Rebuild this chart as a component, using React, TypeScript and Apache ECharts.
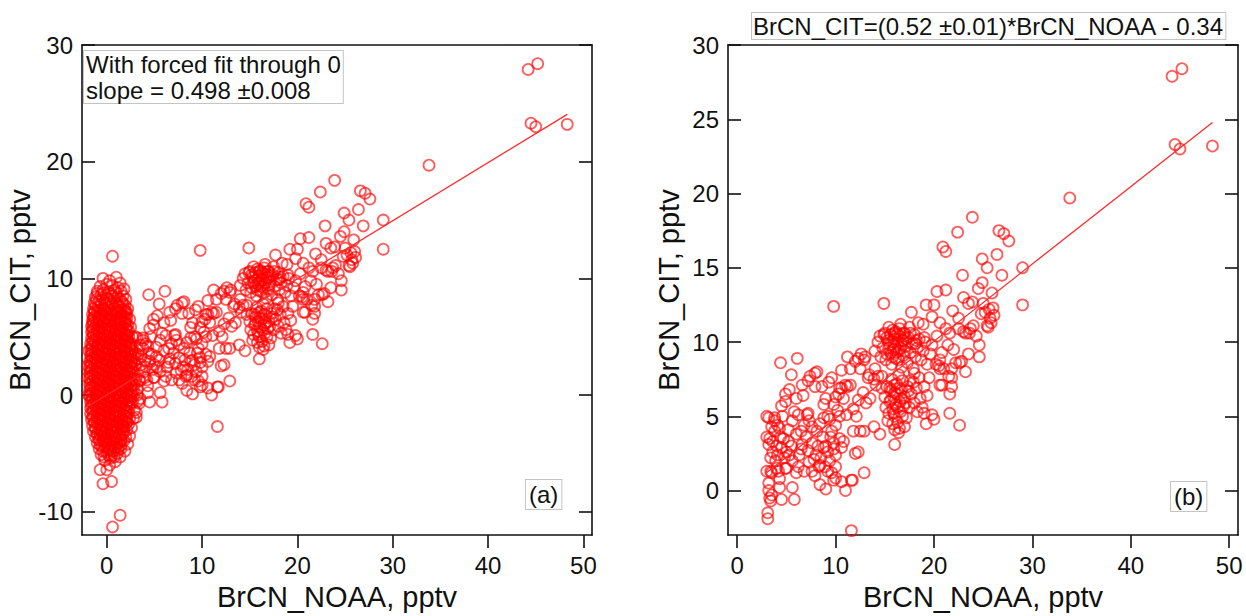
import React, { useEffect, useRef } from "react";
import * as echarts from "echarts";

// BrCN_NOAA (x, pptv), BrCN_CIT (y, pptv) — points with BrCN_NOAA >= 3 (shown in both panels)
const pointsAboveThreshold: [number, number][] = [
  [44.2, 27.9], [45.2, 28.4], [44.5, 23.3], [45.0, 23.0], [48.3, 23.2], [33.8, 19.7],
  [23.9, 18.4], [22.4, 17.4], [26.6, 17.5], [27.1, 17.3], [27.6, 16.8], [20.9, 16.4], [21.2, 16.1],
  [26.4, 15.9], [24.9, 15.6], [25.4, 15.0], [29.0, 15.0], [22.9, 14.5], [26.9, 14.5], [24.9, 14.0],
  [24.5, 13.6], [20.3, 13.4], [21.2, 13.5], [25.9, 13.3], [23.0, 13.0], [14.9, 12.6], [9.8, 12.4],
  [19.2, 12.5], [20.0, 12.5], [17.7, 12.0], [29.0, 12.5], [25.0, 12.6], [25.6, 12.2], [24.8, 11.9],
  [26.1, 11.8], [25.4, 11.1], [25.5, 11.0], [25.8, 11.3], [19.8, 11.7], [18.9, 11.2], [24.0, 11.1],
  [23.0, 10.7], [23.6, 10.6], [21.6, 10.6], [16.9, 10.6], [16.0, 10.6], [14.9, 10.5], [14.3, 10.0],
  [24.6, 9.8], [21.4, 9.8], [19.0, 10.3], [18.1, 9.9], [16.9, 10.1], [24.6, 9.0], [22.6, 8.6],
  [20.6, 8.8], [20.6, 8.2], [20.2, 8.5], [21.8, 8.2], [21.8, 7.6], [20.8, 7.1], [21.6, 6.5],
  [21.6, 5.2], [22.6, 4.4], [19.8, 5.1], [20.0, 4.8], [19.2, 4.5], [16.5, 4.2], [16.0, 4.1],
  [16.0, 3.1], [15.8, 4.5], [13.9, 4.3], [14.5, 3.8], [12.5, 4.0], [12.9, 4.0], [12.0, 2.5],
  [12.9, 1.2], [11.6, 0.7], [11.0, 0.0], [11.6, -2.7], [9.8, 0.7], [9.0, 0.1], [8.4, 0.4],
  [5.6, 0.2], [5.8, -0.6], [4.5, -0.6], [4.3, 0.2], [3.2, 0.0], [3.3, -0.5], [3.5, -0.3],
  [3.4, -0.7], [3.1, -1.5], [3.1, -1.9], [23.9, 12.7], [23.5, 12.6],
  // dense cluster near (16, 10)
  [14.5, 10.4], [14.8, 9.6], [15.0, 10.6], [15.2, 9.2], [15.3, 10.1], [15.5, 9.8], [15.6, 10.5],
  [15.8, 9.0], [15.9, 9.5], [16.0, 10.2], [16.1, 10.7], [16.2, 9.3], [16.3, 9.9], [16.4, 8.8],
  [16.5, 10.4], [16.6, 9.6], [16.8, 10.1], [16.9, 9.1], [17.0, 10.6], [17.1, 9.7], [17.3, 8.6],
  [17.4, 10.3], [17.6, 9.3], [17.8, 9.9], [18.0, 10.5], [18.1, 9.0], [18.3, 9.6], [18.5, 10.2],
  [18.7, 8.8], [18.9, 9.4], [19.1, 10.0], [19.3, 8.5], [19.6, 9.2], [19.8, 9.8], [15.1, 8.8],
  [15.7, 8.5], [16.7, 8.3], [14.6, 9.0], [15.4, 11.0], [16.6, 11.2], [17.5, 11.0], [14.0, 9.4],
  [18.4, 11.3], [17.9, 8.2],
  [15.2, 10.3], [15.6, 9.3], [16.0, 9.7], [16.3, 10.5], [16.7, 9.9], [17.2, 10.2], [15.9, 10.0],
  [16.4, 9.4], [17.0, 9.4], [15.4, 9.6], [16.1, 8.9], [17.6, 10.6], [18.2, 10.1], [16.5, 10.9],
  [15.8, 10.8],
  // dense cluster near (16.5, 6)
  [15.0, 6.3], [15.1, 5.6], [15.2, 7.0], [15.4, 5.2], [15.5, 6.0], [15.6, 6.7], [15.7, 7.5],
  [15.8, 5.5], [15.9, 6.3], [16.0, 5.0], [16.0, 7.1], [16.1, 5.8], [16.2, 6.5], [16.3, 4.6],
  [16.4, 7.8], [16.5, 6.0], [16.6, 5.3], [16.7, 6.8], [16.8, 7.4], [16.9, 5.7], [17.0, 6.3],
  [17.2, 4.9], [17.3, 7.0], [17.5, 5.6], [17.7, 6.5], [17.9, 7.3], [18.0, 5.9], [18.2, 6.9],
  [18.3, 5.3], [18.5, 7.6], [18.6, 6.2], [18.8, 5.6], [19.0, 7.0], [19.3, 6.4], [19.5, 7.6],
  [17.0, 4.3], [16.4, 3.9], [15.3, 4.7], [18.0, 7.9], [19.0, 5.2],
  [15.6, 6.1], [16.0, 6.6], [16.3, 5.6], [16.7, 6.2], [15.9, 5.2], [16.5, 6.9], [17.1, 5.9],
  [16.2, 7.2], [15.5, 6.9], [17.4, 6.7], [16.8, 5.0], [17.6, 7.4],
  // band 20-26
  [20.3, 10.4], [20.8, 9.3], [21.2, 10.9], [22.0, 9.5], [22.5, 10.9], [23.2, 10.6], [23.7, 10.9],
  [23.5, 9.2], [22.2, 8.6], [22.8, 8.7], [23.2, 8.0], [20.5, 8.4], [21.0, 8.2], [21.5, 7.7],
  [20.6, 7.1], [21.8, 7.0], [24.3, 10.4], [25.2, 12.0], [25.7, 11.6], [26.0, 12.3], [22.5, 11.6],
  [21.9, 12.1], [20.6, 11.3],
  // band 10-15
  [10.6, 8.1], [11.5, 8.2], [11.2, 9.0], [12.0, 8.7], [12.3, 8.9], [12.6, 9.2], [12.5, 8.2],
  [12.9, 8.8], [13.4, 7.8], [14.0, 8.2], [14.7, 7.7], [13.3, 7.6], [13.9, 7.5], [14.3, 7.7],
  [14.1, 7.1], [14.7, 6.9], [13.1, 5.9], [13.5, 6.2], [12.3, 6.1], [11.8, 5.5], [10.0, 6.3],
  [10.3, 6.5], [10.6, 6.9], [11.0, 7.1], [11.5, 7.1], [11.2, 7.0], [10.4, 6.9], [9.8, 5.8],
  [10.2, 5.4], [10.8, 6.2], [12.1, 5.0], [11.1, 5.1], [10.4, 5.0], [13.0, 9.0], [12.8, 6.6],
  // band 3-10, y 5-9
  [4.4, 8.6], [6.1, 8.9], [5.5, 7.8], [7.4, 7.7], [7.9, 7.9], [8.1, 8.0], [6.6, 7.1], [9.3, 7.3],
  [7.9, 7.0], [6.7, 6.4], [4.9, 6.5], [5.3, 6.8], [4.5, 5.7], [4.9, 6.0], [5.8, 5.3], [6.2, 5.1],
  [7.1, 5.1], [8.8, 5.8], [6.0, 6.2], [7.2, 5.2], [3.0, 5.0], [3.8, 4.9], [4.6, 5.0], [9.2, 5.0],
  [8.4, 4.5], [9.6, 7.6], [8.6, 7.0], [7.2, 7.4], [9.0, 6.2],
  // band 3-12, y -0.5-5
  [3.0, 3.6], [3.2, 3.1], [3.3, 3.5], [3.8, 4.0], [3.2, 4.9], [3.8, 4.7], [3.4, 2.2], [3.4, 1.3],
  [3.0, 1.3], [3.5, 1.2], [4.2, 1.3], [4.9, 1.5], [4.0, 1.5], [5.0, 1.5], [4.1, 2.4], [4.8, 2.2],
  [4.5, 2.9], [5.2, 3.3], [5.6, 2.0], [6.0, 3.8], [6.2, 1.6], [6.6, 3.1], [6.8, 1.3], [6.0, 1.2],
  [7.2, 2.7], [8.0, 2.4], [8.4, 1.7], [9.2, 2.6], [9.4, 2.0], [10.0, 1.6], [9.2, 1.3], [10.0, 2.4],
  [10.6, 2.9], [10.8, 3.3], [10.4, 3.5], [9.6, 4.0], [10.0, 4.4], [9.4, 4.8], [8.8, 4.9],
  [7.6, 4.3], [6.8, 4.4], [5.6, 4.7], [4.3, 4.2], [4.0, 3.0], [3.6, 2.6], [5.0, 2.6], [5.5, 3.0],
  [6.3, 2.4], [7.0, 3.6], [7.6, 3.2], [8.2, 3.0], [8.7, 3.6], [8.1, 4.0], [9.0, 3.0], [9.8, 3.2],
  [7.9, 1.0], [7.6, 1.3], [8.3, 1.6], [9.6, 1.2], [10.0, 0.85], [10.6, 0.6], [11.7, 0.7],
  [11.8, 4.0], [12.3, 2.6], [3.2, 0.5], [4.3, 0.8], [4.1, 4.4], [5.2, 4.1], [6.5, 4.0], [7.3, 4.7],
  [8.5, 2.2], [9.8, 2.8],
  [3.6, 3.3], [4.4, 3.6], [3.9, 2.0], [5.3, 2.4], [7.8, 2.1], [8.8, 2.9], [9.5, 3.6], [7.3, 1.9],
  [6.5, 2.8], [8.9, 1.6], [4.7, 3.5], [3.5, 4.3],
];

// points with BrCN_NOAA < 3 (only shown in panel a)
const pointsNearZero: [number, number][] = [
  [0.6, 11.9], [-0.4, 10.0], [0.3, 9.8], [1.0, 10.1], [1.4, 9.6],
  [-0.7, 9.3], [0.0, 9.5], [0.6, 9.4], [1.2, 9.2],
  [-1.0, 8.9], [-0.4, 9.0], [0.2, 8.8], [0.8, 9.0], [1.5, 8.9],
  [-1.2, 8.4], [-0.6, 8.6], [0.0, 8.3], [0.5, 8.5], [1.1, 8.4], [1.7, 8.5],
  [-1.3, 7.9], [-0.8, 8.1], [-0.2, 7.8], [0.4, 8.0], [1.0, 7.9], [1.6, 8.0], [1.9, 7.7],
  [-1.4, 7.4], [-0.9, 7.6], [-0.3, 7.3], [0.2, 7.5], [0.8, 7.4], [1.3, 7.6], [1.8, 7.3],
  [-1.5, 6.9], [-1.0, 7.1], [-0.5, 6.8], [0.1, 7.0], [0.6, 6.9], [1.2, 7.1], [1.7, 6.8], [2.1, 7.0],
  [-1.5, 6.4], [-0.9, 6.6], [-0.3, 6.3], [0.3, 6.5], [0.9, 6.4], [1.4, 6.6], [2.0, 6.3],
  [-1.6, 5.9], [-1.1, 6.1], [-0.6, 5.8], [0.0, 6.0], [0.5, 5.9], [1.1, 6.1], [1.6, 5.8], [2.2, 6.0],
  [-1.6, 5.4], [-1.0, 5.6], [-0.4, 5.3], [0.2, 5.5], [0.8, 5.4], [1.3, 5.6], [1.9, 5.3], [2.3, 5.5],
  [-1.6, 4.9], [-1.1, 5.1], [-0.5, 4.8], [0.1, 5.0], [0.7, 4.9], [1.2, 5.1], [1.8, 4.8], [2.3, 5.0],
  [-1.7, 4.4], [-1.2, 4.6], [-0.6, 4.3], [0.0, 4.5], [0.5, 4.4], [1.1, 4.6], [1.6, 4.3], [2.1, 4.5], [2.6, 4.4],
  [-1.7, 3.9], [-1.1, 4.1], [-0.5, 3.8], [0.1, 4.0], [0.7, 3.9], [1.3, 4.1], [1.9, 3.8], [2.4, 4.0],
  [-1.7, 3.4], [-1.2, 3.6], [-0.7, 3.3], [-0.1, 3.5], [0.5, 3.4], [1.0, 3.6], [1.6, 3.3], [2.2, 3.5], [2.8, 3.4],
  [-1.8, 2.9], [-1.2, 3.1], [-0.6, 2.8], [0.0, 3.0], [0.6, 2.9], [1.2, 3.1], [1.7, 2.8], [2.3, 3.0], [2.9, 2.9],
  [-1.8, 2.4], [-1.3, 2.6], [-0.7, 2.3], [-0.1, 2.5], [0.4, 2.4], [1.0, 2.6], [1.5, 2.3], [2.1, 2.5], [2.7, 2.4],
  [-1.8, 1.9], [-1.2, 2.1], [-0.6, 1.8], [0.0, 2.0], [0.6, 1.9], [1.2, 2.1], [1.8, 1.8], [2.4, 2.0], [2.9, 1.9],
  [-1.8, 1.4], [-1.3, 1.6], [-0.7, 1.3], [-0.1, 1.5], [0.5, 1.4], [1.0, 1.6], [1.6, 1.3], [2.2, 1.5], [2.8, 1.4],
  [-1.8, 0.9], [-1.2, 1.1], [-0.6, 0.8], [0.0, 1.0], [0.6, 0.9], [1.2, 1.1], [1.8, 0.8], [2.3, 1.0], [2.9, 0.9],
  [-1.8, 0.4], [-1.3, 0.6], [-0.7, 0.3], [-0.1, 0.5], [0.5, 0.4], [1.0, 0.6], [1.6, 0.3], [2.2, 0.5], [2.8, 0.4],
  [-1.8, -0.1], [-1.2, 0.1], [-0.6, -0.2], [0.0, 0.0], [0.6, -0.1], [1.2, 0.1], [1.8, -0.2], [2.3, 0.0], [2.8, -0.1],
  [-1.7, -0.6], [-1.2, -0.4], [-0.6, -0.7], [0.0, -0.5], [0.5, -0.6], [1.1, -0.4], [1.6, -0.7], [2.2, -0.5], [2.7, -0.6],
  [-1.7, -1.1], [-1.1, -0.9], [-0.5, -1.2], [0.1, -1.0], [0.7, -1.1], [1.2, -0.9], [1.8, -1.2], [2.4, -1.0],
  [-1.7, -1.6], [-1.1, -1.4], [-0.6, -1.7], [0.0, -1.5], [0.6, -1.6], [1.1, -1.4], [1.7, -1.7], [2.3, -1.5],
  [-1.6, -2.1], [-1.0, -1.9], [-0.4, -2.2], [0.2, -2.0], [0.7, -2.1], [1.3, -1.9], [1.9, -2.2], [2.4, -2.0],
  [-1.5, -2.6], [-1.0, -2.4], [-0.4, -2.7], [0.2, -2.5], [0.8, -2.6], [1.3, -2.4], [1.8, -2.7], [2.3, -2.5],
  [-1.4, -3.1], [-0.8, -2.9], [-0.2, -3.2], [0.4, -3.0], [0.9, -3.1], [1.5, -2.9], [2.1, -3.0],
  [-1.2, -3.6], [-0.7, -3.4], [-0.1, -3.7], [0.5, -3.5], [1.0, -3.6], [1.6, -3.4], [2.0, -3.6],
  [-1.0, -4.1], [-0.4, -3.9], [0.2, -4.2], [0.7, -4.0], [1.3, -4.1], [1.8, -3.9],
  [-0.8, -4.6], [-0.2, -4.4], [0.4, -4.7], [0.9, -4.5], [1.5, -4.6],
  [-0.6, -5.1], [0.0, -4.9], [0.5, -5.2], [1.1, -5.0], [1.4, -5.3],
  [-0.2, -5.6], [0.4, -5.4], [0.9, -5.7], [0.3, -6.0],
  [-0.7, -6.4], [0.0, -6.4], [-0.4, -7.6], [0.5, -7.4], [1.4, -10.3], [0.6, -11.3],
  // interleaved rows of the dense core
  [-1.0, 8.7], [-0.3, 8.8], [0.4, 8.7], [1.0, 8.8],
  [-1.1, 8.2], [-0.4, 8.3], [0.2, 8.2], [0.8, 8.3], [1.4, 8.2],
  [-1.2, 7.7], [-0.6, 7.8], [0.0, 7.7], [0.6, 7.8], [1.2, 7.7], [1.7, 7.8],
  [-1.3, 7.2], [-0.7, 7.3], [-0.1, 7.2], [0.5, 7.3], [1.0, 7.2], [1.5, 7.3], [2.0, 7.2],
  [-1.3, 6.7], [-0.8, 6.8], [-0.2, 6.7], [0.4, 6.8], [1.0, 6.7], [1.5, 6.8], [1.9, 6.7],
  [-1.4, 6.2], [-0.8, 6.3], [-0.2, 6.2], [0.3, 6.3], [0.9, 6.2], [1.4, 6.3], [1.9, 6.2],
  [-1.4, 5.7], [-0.8, 5.8], [-0.2, 5.7], [0.4, 5.8], [0.9, 5.7], [1.5, 5.8], [2.0, 5.7],
  [-1.4, 5.2], [-0.8, 5.3], [-0.2, 5.2], [0.4, 5.3], [1.0, 5.2], [1.5, 5.3], [2.1, 5.2],
  [-1.4, 4.7], [-0.8, 4.8], [-0.2, 4.7], [0.4, 4.8], [1.0, 4.7], [1.5, 4.8], [2.1, 4.7],
  [-1.5, 4.2], [-0.9, 4.3], [-0.3, 4.2], [0.3, 4.3], [0.9, 4.2], [1.4, 4.3], [2.0, 4.2], [2.5, 4.3],
  [-1.5, 3.7], [-0.9, 3.8], [-0.3, 3.7], [0.3, 3.8], [0.9, 3.7], [1.5, 3.8], [2.1, 3.7], [2.6, 3.8],
  [-1.5, 3.2], [-0.9, 3.3], [-0.3, 3.2], [0.3, 3.3], [0.9, 3.2], [1.5, 3.3], [2.0, 3.2], [2.6, 3.3],
  [-1.6, 2.7], [-1.0, 2.8], [-0.4, 2.7], [0.3, 2.8], [0.9, 2.7], [1.5, 2.8], [2.0, 2.7], [2.6, 2.8],
  [-1.6, 2.2], [-1.0, 2.3], [-0.4, 2.2], [0.3, 2.3], [0.9, 2.2], [1.5, 2.3], [2.1, 2.2], [2.6, 2.3],
  [-1.5, 1.7], [-0.9, 1.8], [-0.3, 1.7], [0.3, 1.8], [0.9, 1.7], [1.5, 1.8], [2.1, 1.7], [2.6, 1.8],
  [-1.5, 1.2], [-0.9, 1.3], [-0.3, 1.2], [0.3, 1.3], [0.8, 1.2], [1.4, 1.3], [2.0, 1.2], [2.6, 1.3],
  [-1.5, 0.7], [-0.9, 0.8], [-0.3, 0.7], [0.3, 0.8], [0.8, 0.7], [1.4, 0.8], [2.0, 0.7], [2.6, 0.8],
  [-1.5, 0.2], [-0.9, 0.3], [-0.3, 0.2], [0.3, 0.3], [0.9, 0.2], [1.5, 0.3], [2.0, 0.2], [2.6, 0.3],
  [-1.5, -0.3], [-0.9, -0.2], [-0.3, -0.3], [0.3, -0.2], [0.8, -0.3], [1.4, -0.2], [2.0, -0.3], [2.5, -0.2],
  [-1.4, -0.8], [-0.9, -0.7], [-0.3, -0.8], [0.3, -0.7], [0.9, -0.8], [1.4, -0.7], [2.0, -0.8], [2.5, -0.7],
  [-1.4, -1.3], [-0.8, -1.2], [-0.2, -1.3], [0.4, -1.2], [0.9, -1.3], [1.5, -1.2], [2.1, -1.3],
  [-1.4, -1.8], [-0.8, -1.7], [-0.3, -1.8], [0.3, -1.7], [0.9, -1.8], [1.4, -1.7], [2.0, -1.8],
  [-1.3, -2.3], [-0.7, -2.2], [-0.1, -2.3], [0.5, -2.2], [1.0, -2.3], [1.6, -2.2], [2.1, -2.3],
  [-1.2, -2.8], [-0.6, -2.7], [0.0, -2.8], [0.6, -2.7], [1.1, -2.8], [1.7, -2.7],
  [-1.0, -3.3], [-0.5, -3.2], [0.1, -3.3], [0.7, -3.2], [1.3, -3.3], [1.8, -3.2],
  [-0.8, -3.8], [-0.3, -3.7], [0.3, -3.8], [0.9, -3.7], [1.5, -3.8],
  [-0.7, -4.3], [-0.1, -4.2], [0.5, -4.3], [1.0, -4.2], [1.5, -4.3],
  [-0.4, -4.8], [0.2, -4.7], [0.7, -4.8], [1.2, -4.7],
  [-0.3, -5.3], [0.2, -5.2], [0.8, -5.3],
  // third pass through the core
  [-1.3, 7.1], [-0.7, 7.0], [-0.1, 7.1], [0.4, 7.0], [1.0, 7.1], [1.5, 7.0], [1.9, 7.1],
  [-1.4, 6.6], [-0.8, 6.5], [-0.1, 6.6], [0.5, 6.5], [1.1, 6.6], [1.6, 6.5], [2.1, 6.6],
  [-1.5, 6.1], [-0.9, 6.0], [-0.3, 6.1], [0.2, 6.0], [0.8, 6.1], [1.3, 6.0], [1.9, 6.1],
  [-1.5, 5.6], [-0.8, 5.5], [-0.2, 5.6], [0.4, 5.5], [1.0, 5.6], [1.6, 5.5], [2.1, 5.6],
  [-1.4, 5.1], [-0.8, 5.0], [-0.2, 5.1], [0.4, 5.0], [1.0, 5.1], [1.5, 5.0], [2.1, 5.1],
  [-1.5, 4.6], [-0.9, 4.5], [-0.3, 4.6], [0.3, 4.5], [0.8, 4.6], [1.4, 4.5], [1.9, 4.6], [2.4, 4.5],
  [-1.6, 4.1], [-1.0, 4.0], [-0.4, 4.1], [0.2, 4.0], [0.8, 4.1], [1.4, 4.0], [2.0, 4.1], [2.6, 4.0],
  [-1.6, 3.6], [-1.0, 3.5], [-0.4, 3.6], [0.2, 3.5], [0.8, 3.6], [1.3, 3.5], [1.9, 3.6], [2.5, 3.5],
  [-1.6, 3.1], [-1.0, 3.0], [-0.3, 3.1], [0.3, 3.0], [0.9, 3.1], [1.4, 3.0], [2.0, 3.1], [2.6, 3.0],
  [-1.7, 2.6], [-1.0, 2.5], [-0.4, 2.6], [0.1, 2.5], [0.7, 2.6], [1.3, 2.5], [1.8, 2.6], [2.4, 2.5], [3.0, 2.6],
  [-1.7, 2.1], [-1.0, 2.0], [-0.3, 2.1], [0.3, 2.0], [0.9, 2.1], [1.5, 2.0], [2.1, 2.1], [2.7, 2.0],
  [-1.7, 1.6], [-1.0, 1.5], [-0.4, 1.6], [0.2, 1.5], [0.8, 1.6], [1.3, 1.5], [1.9, 1.6], [2.5, 1.5],
  [-1.7, 1.1], [-1.0, 1.0], [-0.3, 1.1], [0.3, 1.0], [0.9, 1.1], [1.5, 1.0], [2.1, 1.1], [2.7, 1.0],
  [-1.7, 0.6], [-1.0, 0.5], [-0.4, 0.6], [0.2, 0.5], [0.8, 0.6], [1.3, 0.5], [1.9, 0.6], [2.5, 0.5],
  [-1.7, 0.1], [-1.0, 0.0], [-0.3, 0.1], [0.3, 0.0], [0.9, 0.1], [1.5, 0.0], [2.1, 0.1], [2.6, 0.0],
  [-1.6, -0.4], [-1.0, -0.5], [-0.4, -0.4], [0.2, -0.5], [0.8, -0.4], [1.3, -0.5], [1.9, -0.4], [2.4, -0.5],
  [-1.6, -0.9], [-0.9, -1.0], [-0.3, -0.9], [0.3, -1.0], [0.9, -0.9], [1.5, -1.0], [2.1, -0.9],
  [-1.5, -1.4], [-0.9, -1.5], [-0.3, -1.4], [0.3, -1.5], [0.8, -1.4], [1.4, -1.5], [2.0, -1.4],
  [-1.5, -1.9], [-0.8, -2.0], [-0.2, -1.9], [0.4, -2.0], [1.0, -1.9], [1.6, -2.0], [2.1, -1.9],
  [-1.3, -2.4], [-0.7, -2.5], [-0.1, -2.4], [0.5, -2.5], [1.1, -2.4], [1.6, -2.5], [2.1, -2.4],
  [-1.2, -2.9], [-0.6, -3.0], [0.0, -2.9], [0.6, -3.0], [1.2, -2.9], [1.8, -3.0],
  [-1.0, -3.4], [-0.4, -3.5], [0.2, -3.4], [0.8, -3.5], [1.4, -3.4],
  [-0.8, -3.9], [-0.2, -4.0], [0.4, -3.9], [1.0, -4.0], [1.5, -3.9],
  [-0.5, -4.4], [0.1, -4.5], [0.7, -4.4], [1.2, -4.5],
  // outer edge of the cloud
  [2.9, -1.3], [2.8, -2.0], [2.6, -2.8], [2.4, -3.5], [2.2, -4.2], [1.9, -4.8], [2.7, 5.0],
  [2.5, 5.8], [2.4, 6.5], [2.2, 7.4], [2.0, 8.2], [1.8, 9.1],
  [-2.0, 1.5], [-2.0, 2.5], [-1.9, 0.0], [-1.9, 3.8],
];

// fits
const fitA = { slope: 0.498, intercept: 0, xStart: -1.8, xEnd: 48.3 };
const fitB = { slope: 0.52, intercept: -0.34, xStart: 3.0, xEnd: 48.3 };

// tick labels
const xTicks = [0, 10, 20, 30, 40, 50];
const yTicksA = [-10, 0, 10, 20, 30];
const yTicksB = [0, 5, 10, 15, 20, 25, 30];

const FONT = '"Liberation Sans", Arial, Helvetica, sans-serif';
const INK = "#111";

export default function App() {
  const ref = useRef<HTMLDivElement>(null);
  useEffect(() => {
    if (!ref.current) return;
    const chart = echarts.init(ref.current, undefined, { renderer: "svg" });

    const fitLine = (f: typeof fitA) => [
      [f.xStart, f.slope * f.xStart + f.intercept],
      [f.xEnd, f.slope * f.xEnd + f.intercept],
    ];

    const lineStyle = { color: INK, width: 1.6 };

    const xAxisBase = (gridIndex: number, min: number) => ({
      type: "value",
      gridIndex,
      min,
      max: 50.9,
      name: "BrCN_NOAA, pptv",
      nameLocation: "middle",
      nameGap: 46,
      nameTextStyle: { fontFamily: FONT, fontSize: 29, color: INK },
      axisLine: { show: true, onZero: false, lineStyle },
      axisTick: { show: true, inside: false, length: 13, customValues: xTicks, lineStyle },
      axisLabel: { customValues: xTicks, fontFamily: FONT, fontSize: 24, color: INK, margin: 18, showMinLabel: true, showMaxLabel: true },
      splitLine: { show: false },
    });

    const yAxisBase = (gridIndex: number, min: number, ticks: number[], gap: number) => ({
      type: "value",
      gridIndex,
      min,
      max: 30,
      name: "BrCN_CIT, pptv",
      nameLocation: "middle",
      nameGap: gap,
      nameTextStyle: { fontFamily: FONT, fontSize: 29, color: INK },
      axisLine: { show: true, onZero: false, lineStyle },
      axisTick: { show: true, inside: true, length: 13, customValues: ticks, lineStyle },
      axisLabel: { customValues: ticks, fontFamily: FONT, fontSize: 24, color: INK, margin: 9, showMinLabel: true, showMaxLabel: true },
      splitLine: { show: false },
    });

    const yAxisMirror = (gridIndex: number, min: number, ticks: number[]) => ({
      type: "value",
      gridIndex,
      position: "right",
      min,
      max: 30,
      axisLine: { show: true, onZero: false, lineStyle },
      axisTick: { show: true, inside: true, length: 13, customValues: ticks, lineStyle },
      axisLabel: { show: false },
      splitLine: { show: false },
    });

    const xAxisTop = (gridIndex: number, min: number) => ({
      type: "value",
      gridIndex,
      position: "top",
      min,
      max: 50.9,
      axisLine: { show: true, onZero: false, lineStyle },
      axisTick: { show: false },
      axisLabel: { show: false },
      splitLine: { show: false },
    });

    const markerStyle = {
      color: "rgba(255,0,0,0)",
      borderColor: "rgba(255,0,0,0.8)",
      borderWidth: 1.8,
    };

    const boxText = (text: string, x: number, y: number, padding: number[], lineHeight: number) => ({
      type: "text",
      x,
      y,
      z: 100,
      style: {
        text,
        font: `24px ${FONT}`,
        fill: INK,
        lineHeight,
        backgroundColor: "#fff",
        borderColor: "#c4c4c4",
        borderWidth: 1,
        padding,
      },
    });

    chart.setOption({
      animation: false,
      backgroundColor: "#fff",
      grid: [
        { left: 82, right: 1246 - 592, top: 45, bottom: 616 - 537 },
        { left: 728, right: 1246 - 1238, top: 45, bottom: 616 - 537 },
      ],
      xAxis: [xAxisBase(0, -2.6), xAxisBase(1, -0.94), xAxisTop(0, -2.6), xAxisTop(1, -0.94)],
      yAxis: [
        yAxisBase(0, -12, yTicksA, 43),
        yAxisMirror(0, -12, yTicksA),
        yAxisBase(1, -3, yTicksB, 45),
        yAxisMirror(1, -3, yTicksB),
      ],
      series: [
        {
          type: "scatter",
          xAxisIndex: 0,
          yAxisIndex: 0,
          data: [...pointsNearZero, ...pointsAboveThreshold],
          symbol: "circle",
          symbolSize: 11,
          itemStyle: markerStyle,
          silent: true,
        },
        {
          type: "line",
          xAxisIndex: 0,
          yAxisIndex: 0,
          data: fitLine(fitA),
          showSymbol: false,
          lineStyle: { color: "#ff2a2a", width: 1.3 },
          silent: true,
          z: 3,
        },
        {
          type: "scatter",
          xAxisIndex: 1,
          yAxisIndex: 2,
          data: pointsAboveThreshold,
          symbol: "circle",
          symbolSize: 11,
          itemStyle: markerStyle,
          silent: true,
        },
        {
          type: "line",
          xAxisIndex: 1,
          yAxisIndex: 2,
          data: fitLine(fitB),
          showSymbol: false,
          lineStyle: { color: "#ff2a2a", width: 1.3 },
          silent: true,
          z: 3,
        },
      ],
      graphic: [
        boxText("With forced fit through 0\nslope = 0.498 \u00b10.008", 84, 51, [0, 2, 0, 2], 26),
        boxText("(a)", 526, 480, [2, 3, 2, 3], 25),
        boxText("BrCN_CIT=(0.52 \u00b10.01)*BrCN_NOAA - 0.34", 752, 13, [0, 1, 0, 1], 26),
        boxText("(b)", 1171, 482, [2, 3, 2, 3], 25),
      ],
    });
    return () => chart.dispose();
  }, []);

  return (
    <div
      ref={ref}
      style={{ position: "fixed", left: 0, top: 0, width: 1246, height: 616, background: "#fff" }}
    />
  );
}
